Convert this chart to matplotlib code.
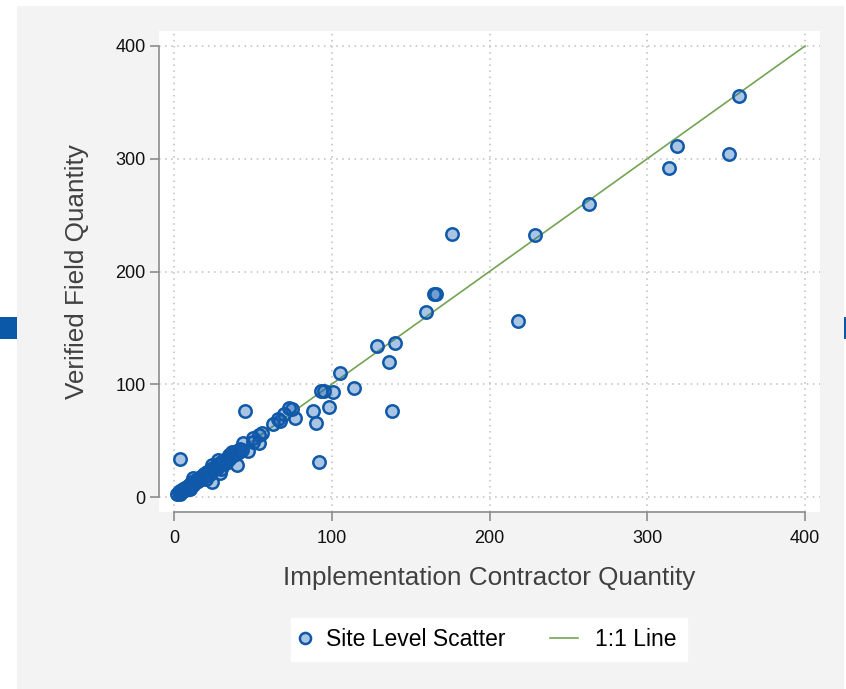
#!/usr/bin/env python
# -*- coding: utf-8 -*-

# scatter of verified field quantity vs implementation contractor quantity
# with a 1:1 reference line

import matplotlib
matplotlib.use('Agg')
import matplotlib.pyplot as plt
import matplotlib.patches as mpatches
from matplotlib.lines import Line2D
from matplotlib.legend_handler import HandlerLine2D

plt.rcParams['font.family'] = ['Liberation Sans', 'DejaVu Sans']

# site level values (contractor, verified)
contractor = [358, 319, 314, 352, 263, 229, 176, 218, 165, 166, 160, 140, 129, 136, 138,
              114, 105, 101, 93, 95, 98, 92, 90, 88, 77, 73, 75, 70, 67, 66,
              63, 56, 54, 54, 50, 50, 47, 44, 45, 4, 40, 37, 35, 24, 24,
              29, 18, 23,
              2, 3, 4, 4, 5, 6, 6, 7, 7, 8, 8, 9, 9, 10, 10, 11, 11, 12, 12, 13,
              13, 14, 14, 15, 15, 16, 16, 17, 17, 18, 19, 20, 20, 21, 21, 22, 23,
              24, 25, 25, 26, 26, 27, 27, 28, 29, 30, 31, 32, 33, 34, 35, 36, 37,
              38, 39, 40, 41, 42, 43, 20, 12, 10, 30, 33, 28]
verified = [356, 311, 292, 304, 260, 232, 233, 156, 180, 180, 164, 137, 134, 120, 76,
            97, 110, 93, 94, 94, 80, 31, 66, 76, 70, 79, 78, 74, 67, 69,
            65, 57, 55, 48, 52, 49, 41, 48, 76, 34, 28, 40, 37, 28, 13,
            21, 19, 20,
            3, 4, 3, 5, 6, 5, 7, 6, 8, 7, 9, 8, 10, 9, 11, 10, 12, 11, 13, 12,
            14, 13, 15, 14, 16, 15, 17, 16, 18, 17, 20, 19, 21, 20, 22, 23, 22,
            25, 24, 26, 25, 27, 26, 28, 29, 28, 31, 30, 33, 32, 35, 34, 37, 36,
            39, 38, 41, 40, 43, 42, 16, 17, 7, 25, 30, 33]

ticks = [0, 100, 200, 300, 400]
line_ends = [0, 400]

edge_blue = '#1059a8'
fill_blue = (0.08, 0.36, 0.70, 0.36)
line_green = '#74a352'
axis_gray = '#8c8c8c'

fig = plt.figure(figsize=(8.46, 6.89), dpi=100)
fig.patch.set_facecolor('white')

# grey page behind the graph plus the two little blue tabs at the edges
fig.patches.append(mpatches.Rectangle((17/846, 0), 827/846, 683/689, transform=fig.transFigure,
                                      facecolor='#f3f3f3', edgecolor='none', zorder=-5))
fig.patches.append(mpatches.Rectangle((0, 350/689), 17/846, 22/689, transform=fig.transFigure,
                                      facecolor='#0b58a8', edgecolor='none', zorder=-5))
fig.patches.append(mpatches.Rectangle((844/846, 350/689), 2/846, 22/689, transform=fig.transFigure,
                                      facecolor='#0b58a8', edgecolor='none', zorder=-5))

ax = fig.add_axes([159/846, 177/689, 661/846, 481/689])
ax.set_facecolor('white')

ax.plot(line_ends, line_ends, color=line_green, linewidth=1.2, zorder=2)
ax.scatter(contractor, verified, s=80, facecolors=[fill_blue], edgecolors=edge_blue,
           linewidths=1.8, zorder=3)

ax.set_xlim(-9.5, 409.5)
ax.set_ylim(-13.3, 413.3)
ax.set_xticks(ticks)
ax.set_yticks(ticks)

ax.grid(True, linestyle=(0, (1, 3)), color='#bdbdbd', linewidth=1.1, zorder=1)

for side in ['top', 'right']:
    ax.spines[side].set_visible(False)
for side in ['left', 'bottom']:
    ax.spines[side].set_color(axis_gray)
    ax.spines[side].set_linewidth(1.2)
    ax.spines[side].set_bounds(0, 400)

ax.tick_params(axis='both', direction='out', length=6.5, width=1.2, color=axis_gray,
               labelsize=13, labelcolor='#111111')
ax.tick_params(axis='x', pad=6.5)
ax.tick_params(axis='y', pad=3)

ax.set_xlabel('Implementation Contractor Quantity', fontsize=18.8, color='#404040', labelpad=14)
ax.set_ylabel('Verified Field Quantity', fontsize=18.8, color='#404040', labelpad=19)

# legend: marker handle kept tight, line handle stretched back into the column gap
dot = Line2D([], [], marker='o', linestyle='none', markersize=8,
             markerfacecolor=fill_blue, markeredgecolor=edge_blue, markeredgewidth=1.8)
one_to_one = Line2D([], [], color=line_green, linewidth=1.2)
leg = fig.legend([dot, one_to_one], ['Site Level Scatter', '1:1 Line'], loc='center',
                 bbox_to_anchor=(489/846, 49.5/689), ncol=2, fontsize=16.5,
                 frameon=True, fancybox=False, handlelength=0.35, handletextpad=0.74,
                 columnspacing=2.8, borderpad=0.45,
                 handler_map={dot: HandlerLine2D(xpad=0.0),
                              one_to_one: HandlerLine2D(xpad=-0.87)})
leg.get_frame().set_facecolor('white')
leg.get_frame().set_edgecolor('white')
leg.get_frame().set_alpha(1)

plt.savefig('out.png', dpi=100)
